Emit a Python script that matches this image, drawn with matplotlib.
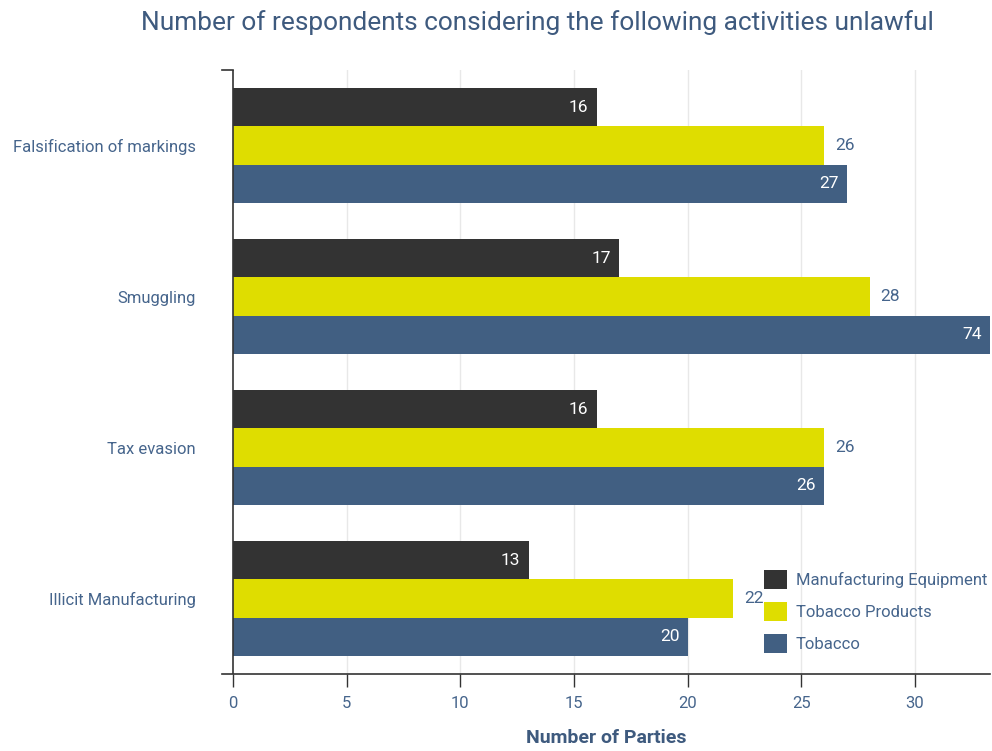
import matplotlib
matplotlib.use("Agg")
import matplotlib.pyplot as plt
import numpy as np

categories = ["Falsification of markings", "Smuggling", "Tax evasion", "Illicit Manufacturing"]
series_names = ["Manufacturing Equipment", "Tobacco Products", "Tobacco"]
equipment = [16, 17, 16, 13]
products = [26, 28, 26, 22]
tobacco = [27, 74, 26, 20]

colors = ["#333333", "#dfdd00", "#415f82"]
text_color = "#46658c"
x_ticks = [0, 5, 10, 15, 20, 25, 30]

plt.rcParams['font.family'] = ['Roboto', 'DejaVu Sans']

fig = plt.figure(figsize=(9.92, 7.51), dpi=100)
ax = fig.add_axes([222 / 992, 1 - 674 / 751, (990 - 222) / 992, (674 - 70) / 751])

xmin, xmax = -0.484, 33.3
ax.set_xlim(xmin, xmax)
ax.set_ylim(3.5, -0.5)

y = np.arange(len(categories))
bar_h = 0.252
all_series = [equipment, products, tobacco]
for i, (vals, col) in enumerate(zip(all_series, colors)):
    ypos = y + (i - 1) * bar_h
    ax.barh(ypos, vals, height=bar_h, color=col, zorder=2, label=series_names[i])
    for yy, v in zip(ypos, vals):
        xv = min(v, xmax)
        if col == "#dfdd00":
            ax.annotate(str(v), (xv, yy), xytext=(8, 0), textcoords="offset points",
                        ha="left", va="center", fontsize=12.5, color=text_color, zorder=3)
        else:
            ax.annotate(str(v), (xv, yy), xytext=(-6, 0), textcoords="offset points",
                        ha="right", va="center", fontsize=12.5, color="white", zorder=3)

# grid and axis lines
for t in x_ticks[1:]:
    ax.axvline(t, color="#e8e8e8", lw=1, zorder=0)
ax.axvline(0, color="#333333", lw=1.2, zorder=4)
ax.plot([xmin, 0], [-0.5, -0.5], color="#333333", lw=1.2, clip_on=False, zorder=4)

for s in ["top", "right", "left"]:
    ax.spines[s].set_visible(False)
ax.spines["bottom"].set_color("#333333")
ax.spines["bottom"].set_linewidth(1.2)

ax.set_xticks(x_ticks)
ax.tick_params(axis="x", length=9, width=1, color="#333333", labelcolor=text_color,
               labelsize=12, pad=7)
ax.set_yticks(y)
ax.set_yticklabels(categories)
ax.tick_params(axis="y", length=0, labelcolor=text_color, labelsize=12, pad=19)

fig.text(606 / 992, 1 - 738 / 751, "Number of Parties", ha="center", va="center",
         fontsize=14, fontweight="bold", color="#3e5a7e")
fig.text(537 / 992, 1 - 23 / 751, "Number of respondents considering the following activities unlawful",
         ha="center", va="center", fontsize=18.9, color="#3e5a7e")

ax.legend(loc="lower left", bbox_to_anchor=(0.706, 0.034), frameon=False, fontsize=12,
          labelcolor=text_color, handlelength=1.38, handleheight=1.38, handletextpad=0.5,
          labelspacing=0.78, borderaxespad=0, borderpad=0)

fig.savefig("out.png", dpi=100)
